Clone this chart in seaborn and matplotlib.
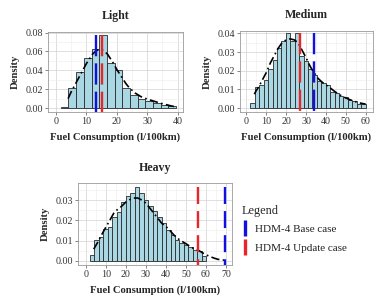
import numpy as np
import pandas as pd
import matplotlib
matplotlib.use("Agg")
import matplotlib.pyplot as plt
import seaborn as sns
from matplotlib.lines import Line2D
from matplotlib.ticker import MultipleLocator, FormatStrFormatter

# ---------------- data ----------------
light_edges = [1.6, 4.13, 6.66, 9.19, 11.72, 14.25, 16.78, 19.31, 21.84, 24.37,
               26.9, 29.43, 31.96, 34.49, 37.02, 39.55]
light_dens = [0.001, 0.021, 0.038, 0.053, 0.063, 0.077, 0.048, 0.040, 0.021,
              0.0137, 0.0098, 0.0074, 0.0053, 0.0035, 0.0018]
light_kde_x = [4, 5, 6, 7, 8, 9, 10, 11, 12, 13, 14, 15, 16, 17, 18, 19, 20, 21,
               22, 23, 24, 25, 26, 28, 30, 32, 34, 36, 38, 39]
light_kde_y = [0.010, 0.017, 0.023, 0.029, 0.035, 0.041, 0.047, 0.052, 0.057,
               0.060, 0.062, 0.062, 0.060, 0.057, 0.052, 0.047, 0.041, 0.036,
               0.031, 0.026, 0.022, 0.019, 0.016, 0.012, 0.0095, 0.0075,
               0.0055, 0.0038, 0.0022, 0.0015]
light_base, light_update = 13.1, 15.2

medium_edges = [2.0, 4.23, 6.46, 8.69, 10.92, 13.15, 15.38, 17.61, 19.84, 22.07,
                24.3, 26.53, 28.76, 30.99, 33.22, 35.45, 37.68, 39.91, 42.14,
                44.37, 46.6, 48.83, 51.06, 53.29, 55.52, 57.75, 59.98]
medium_dens = [0.003, 0.0115, 0.0125, 0.015, 0.021, 0.026, 0.032, 0.036, 0.040,
               0.036, 0.040, 0.028, 0.025, 0.021, 0.0175, 0.0145, 0.0135,
               0.0125, 0.0088, 0.0082, 0.0068, 0.006, 0.0043, 0.004, 0.0025,
               0.0022]
medium_kde_x = [4, 5, 6, 8, 10, 12, 14, 16, 18, 20, 22, 24, 26, 28, 30, 32, 34,
                36, 38, 40, 42, 44, 46, 48, 50, 52, 54, 56, 58, 60]
medium_kde_y = [0.0075, 0.0095, 0.011, 0.015, 0.019, 0.024, 0.028, 0.032, 0.035,
                0.0365, 0.037, 0.0365, 0.035, 0.031, 0.027, 0.0225, 0.019,
                0.016, 0.014, 0.0125, 0.011, 0.0093, 0.0078, 0.0065, 0.0055,
                0.0046, 0.0038, 0.0031, 0.0026, 0.0022]
medium_base, medium_update = 34.2, 27.2

heavy_edges = [2.0, 4.24, 6.48, 8.72, 10.96, 13.2, 15.44, 17.68, 19.92, 22.16,
               24.4, 26.64, 28.88, 31.12, 33.36, 35.6, 37.84, 40.08, 42.32,
               44.56, 46.8, 49.04, 51.28, 53.52, 55.76, 58.0, 60.24]
heavy_dens = [0.003, 0.0103, 0.0116, 0.0156, 0.0169, 0.0218, 0.0243, 0.029,
              0.032, 0.0333, 0.0362, 0.0335, 0.030, 0.027, 0.0245, 0.0218,
              0.0185, 0.0152, 0.0128, 0.0103, 0.009, 0.0079, 0.007, 0.0054,
              0.005, 0.0025]
heavy_kde_x = [4, 5, 6, 8, 10, 12, 14, 16, 18, 20, 22, 24, 26, 28, 30, 32, 34,
               36, 38, 40, 42, 44, 46, 48, 50, 52, 54, 56, 58, 60, 62, 64, 66,
               68, 69]
heavy_kde_y = [0.0058, 0.0075, 0.0092, 0.013, 0.0165, 0.020, 0.0235, 0.0255,
               0.027, 0.029, 0.0302, 0.031, 0.031, 0.030, 0.0285, 0.026,
               0.0235, 0.021, 0.0185, 0.017, 0.015, 0.0128, 0.011, 0.0097,
               0.0085, 0.0072, 0.006, 0.0054, 0.0042, 0.003, 0.0022, 0.0014,
               0.0008, 0.0005, 0.0004]
heavy_base, heavy_update = 69.5, 55.9

legend_labels = ["HDM-4 Base case", "HDM-4 Update case"]

# ---------------- style ----------------
sns.set_theme(style="whitegrid")
plt.rcParams["font.family"] = ["Liberation Serif", "DejaVu Serif"]

BLUE = "#1010e0"
RED = "#e8262a"
FILL = "#a9d7e3"
W, H = 376, 307
fig = plt.figure(figsize=(W / 100, H / 100), dpi=100)


def axes_px(left, top, right, bottom):
    return fig.add_axes([left / W, 1 - bottom / H, (right - left) / W,
                         (bottom - top) / H])


def panel(ax, title, edges, dens, kx, ky, base, update, xlim, ylim, xmaj,
          ymaj, dash):
    centers = [(a + b) / 2 for a, b in zip(edges[:-1], edges[1:])]
    sns.histplot(x=centers, weights=dens, bins=edges, ax=ax, color=FILL,
                 edgecolor="#2a2a2a", linewidth=0.6, alpha=1.0, zorder=2)
    sns.lineplot(x=kx, y=ky, ax=ax, color="black", linewidth=1.2, zorder=4)
    ax.lines[-1].set_dashes([5, 2, 1, 2])
    top = max(dens)
    for xv, col in [(base, BLUE), (update, RED)]:
        ax.plot([xv, xv], [top, ylim[0]], color=col, linewidth=1.7,
                dashes=dash, zorder=5, solid_capstyle="butt",
                dash_capstyle="butt")
    ax.set_xlim(*xlim)
    ax.set_ylim(*ylim)
    ax.xaxis.set_major_locator(MultipleLocator(xmaj))
    ax.xaxis.set_minor_locator(MultipleLocator(xmaj / 2))
    ax.yaxis.set_major_locator(MultipleLocator(ymaj))
    ax.yaxis.set_minor_locator(MultipleLocator(ymaj / 2))
    ax.yaxis.set_major_formatter(FormatStrFormatter("%.2f"))
    ax.grid(True, which="major", color="#d9d9d9", linewidth=0.6)
    ax.grid(True, which="minor", color="#ececec", linewidth=0.4)
    ax.set_axisbelow(True)
    ax.tick_params(axis="both", which="major", labelsize=7.2,
                   labelcolor="#333333", length=2, width=0.5,
                   color="#555555", pad=1.5, bottom=True, left=True)
    ax.tick_params(axis="both", which="minor", length=0)
    for s in ax.spines.values():
        s.set_color("#9a9a9a")
        s.set_linewidth(0.6)
    ax.set_title(title, fontsize=8.6, fontweight="bold", pad=9)
    ax.set_xlabel("Fuel Consumption (l/100km)", fontsize=7.7,
                  fontweight="bold", labelpad=5)
    ax.set_ylabel("Density", fontsize=7.7, fontweight="bold", labelpad=4)


ax1 = axes_px(48, 32, 183, 112)
panel(ax1, "Light", light_edges, light_dens, light_kde_x, light_kde_y,
      light_base, light_update, (-2.6, 41.8), (-0.0042, 0.0806), 10, 0.02,
      [9, 3])

ax2 = axes_px(240, 31, 373, 112)
panel(ax2, "Medium", medium_edges, medium_dens, medium_kde_x, medium_kde_y,
      medium_base, medium_update, (-3.2, 63.7), (-0.002, 0.0412), 10, 0.01,
      [9, 3])

ax3 = axes_px(78, 183, 232, 265)
panel(ax3, "Heavy", heavy_edges, heavy_dens, heavy_kde_x, heavy_kde_y,
      heavy_base, heavy_update, (-3.84, 73.0), (-0.002, 0.0384), 10, 0.01,
      [7.2, 3])

handles = [Line2D([], [], linestyle="none", marker="|", markersize=11,
                  markeredgewidth=2.4, color=c) for c in (BLUE, RED)]
leg = fig.legend(handles, legend_labels, title="Legend", loc="upper left",
                 bbox_to_anchor=(242 / W, 1 - 205 / H), frameon=False,
                 fontsize=8.0, title_fontsize=8.8, handlelength=0.6,
                 handletextpad=0.55, labelspacing=0.85, borderaxespad=0,
                 borderpad=0)
leg._legend_box.align = "left"
leg._legend_box.sep = 5
for t in leg.get_texts():
    t.set_color("#222222")

fig.savefig("out.png", dpi=100)
